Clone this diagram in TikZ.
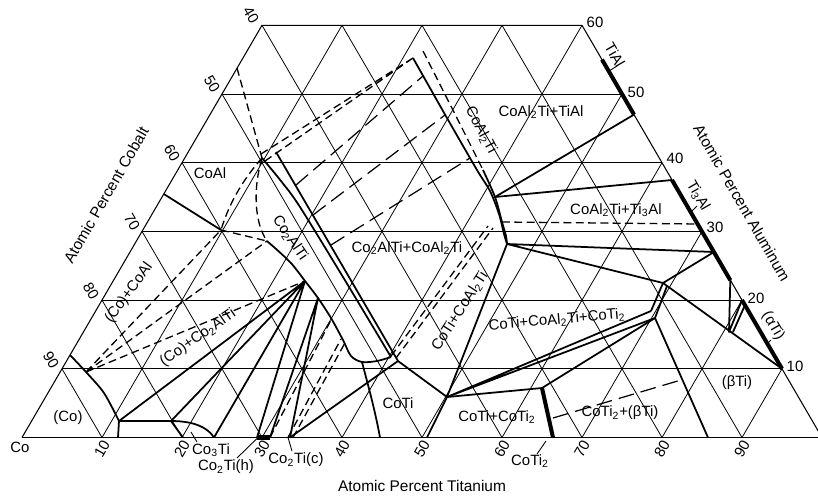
\documentclass[tikz,border=0pt]{standalone}
\usepackage{fontspec}
\setmainfont{Liberation Sans}
\newcommand{\low}[1]{\textsubscript{#1}}
\tikzset{
  grid/.style={line width=0.45pt},
  phase/.style={line width=1pt, line join=round},
  bold/.style={line width=2.3pt},
  tie/.style={line width=0.75pt, dash pattern=on 4.5pt off 2.5pt},
  longtie/.style={line width=0.7pt, dash pattern=on 9pt off 4pt},
  leader/.style={line width=0.5pt}
}
\begin{document}
\begin{tikzpicture}[x=0.02cm, y=-0.02cm, inner sep=0.3mm, font=\fontsize{8.5}{10}\selectfont]
\useasboundingbox (0,0) rectangle (818,495);

% grid: constant Al
\draw[grid] (62,368.8) -- (782,368.8) (102,300.1) -- (742,300.1) (142,231.4) -- (702,231.4) (182,162.7) -- (662,162.7) (222,94) -- (622,94);
% grid: constant Ti
\draw[grid] (102,437.5) -- (342,25.3) (182,437.5) -- (422,25.3) (262,437.5) -- (502,25.3) (342,437.5) -- (582,25.3) (422,437.5) -- (622,94) (502,437.5) -- (662,162.7) (582,437.5) -- (702,231.4) (662,437.5) -- (742,300.1) (742,437.5) -- (782,368.8);
% grid: constant Co
\draw[grid] (62,368.8) -- (102,437.5) (102,300.1) -- (182,437.5) (142,231.4) -- (262,437.5) (182,162.7) -- (342,437.5) (222,94) -- (422,437.5) (262,25.3) -- (502,437.5) (342,25.3) -- (582,437.5) (422,25.3) -- (662,437.5) (502,25.3) -- (742,437.5);
% frame
\draw[line width=0.6pt] (22,437.5) -- (262,25.3) -- (582,25.3) -- (822,437.5);
\draw[line width=0.9pt] (22,437.5) -- (818,437.5);

% corners of the fields
\coordinate (P0) at (86,372);
\coordinate (C1) at (119,421);
\coordinate (C3) at (171,421);
\coordinate (B) at (221,230);
\coordinate (Bp) at (267,241);
\coordinate (J) at (262,158);
\coordinate (K) at (305,281);
\coordinate (K2) at (318,298);
\coordinate (M) at (290,437.5);
\coordinate (N) at (398,361);
\coordinate (Q) at (447,397);
\coordinate (A1) at (413,58);
\coordinate (Ra) at (495,197);
\coordinate (Rb) at (502,222);
\coordinate (P) at (507,244);
\coordinate (U) at (663,283);
\coordinate (T1) at (651,311);
\coordinate (T2) at (655,318);
\coordinate (D2) at (542,388);

% (Co) corner
\draw[phase] plot[smooth] coordinates {(70,355) (86,372) (104,393) (119,421)};
\draw[phase] (C1) -- (118,437.5);
\draw[phase] (C1) -- (C3) -- (183,437.5);
\draw[phase] (C3) .. controls (195,421) and (208,428) .. (214,437.5);
\draw[phase] (C1) -- (K) (C3) -- (K) (214,437.5) -- (K) (257,437.5) -- (K);
\draw[phase] (270,437.5) -- (K2) -- (M);
\draw[bold] (257,437.5) -- (270,437.5);
\draw[phase] (M) -- (N);
\draw[tie] (270,437.5) -- (331,320);
\draw[tie] (288,437.5) -- (341,339) (293,437.5) -- (346,341);
\draw[tie] (P0) -- (B) (P0) -- (Bp) (P0) -- (K);

% CoAl
\draw[phase] (163.8,194) -- (B);
\draw[tie] (237,68) -- (J);
\draw[tie] (J) .. controls (246,176) and (230,200) .. (B);
\draw[tie] (J) .. controls (253,188) and (254,222) .. (Bp);
\draw[tie] (B) -- (Bp);
\draw[tie] (261,154) -- (A1) (265,161) -- (A1);

% Co2AlTi band
\draw[phase] plot[smooth] coordinates {(267,241) (290,262) (305,281) (318,298) (331,318) (343,340) (351,356) (362,362) (377,361) (391,357)};
\draw[phase] plot[smooth] coordinates {(262,158) (281,181) (300,207) (346,282) (391,357)};
\draw[phase] (276,152) -- (N);

% CoTi
\draw[phase] (362,362) .. controls (368,385) and (375,410) .. (380,437.5);
\draw[phase] (N) -- (Q) -- (427,437.5);
\draw[tie] (391,356) -- (488,226) (396,358) -- (493,228);

% CoAl2Ti band
\draw[phase] plot[smooth] coordinates {(413,58) (447,118) (477,170) (490,191) (499,214) (504,234) (507,244)};
\draw[tie] (423,51) -- (462,128) -- (483,170);
\draw[phase] plot[smooth] coordinates {(483,170) (495,197) (502,222) (506,236) (507,244)};
\draw[longtie] (296,185) -- (423,76) (313,215) -- (445,115) (331,245) -- (470,158);

% Ti rich side
\draw[phase] (Ra) -- (634,114.6);
\draw[phase] (Ra) -- (672,180);
\draw[tie] (Rb) -- (698,224);
\draw[phase] (P) -- (714,252) -- (U) -- (P);
\draw[phase] (P) -- (Q);
\draw[phase] (U) -- (782,368.8);
\draw[phase] (U) -- (T1) (667,286) -- (T2);
\draw[phase] (Q) -- (T1) (Q) -- (T2);
\draw[phase] (Q) -- (D2) -- (T2);
\draw[bold] (D2) -- (553,437.5);
\draw[longtie] (553,418) -- (681,380);
\draw[phase] (T2) -- (708,437.5);
\draw[phase] (730.3,280.2) -- (729,332) -- (742,300.1) (733,332) -- (745,305);
\draw[bold] (602,59.6) -- (634,114.6);
\draw[bold] (672,180) -- (730.3,280.2);
\draw[bold] (742,300.1) -- (782,368.8);

% fields
\node(fCo) at (68,418) {(Co)};
\node(fCoAl) at (210,173) {CoAl};
\node(fCoCoAl) at (129,293) [rotate=54] {(Co)+CoAl};
\node(fCoHeus) at (198,338) [rotate=35] {(Co)+Co\low{2}AlTi};
\node(fHeus) at (290,238) [rotate=-56] {Co\low{2}AlTi};
\node(fHeusTern) at (407,248) {Co\low{2}AlTi+CoAl\low{2}Ti};
\node(fTern) at (481,130) [rotate=-62] {CoAl\low{2}Ti};
\node(fTernTiAl) at (541,112) {CoAl\low{2}Ti+TiAl};
\node(fTernTi3Al) at (616,210) {CoAl\low{2}Ti+Ti\low{3}Al};
\node(fCoTiTern) at (460,311) [rotate=57] {CoTi+CoAl\low{2}Ti};
\node(fThree) at (557,320) [rotate=5] {CoTi+CoAl\low{2}Ti+CoTi\low{2}};
\node(fCoTi) at (398,403) {CoTi};
\node(fCoTiCoTi2) at (497,417) {CoTi+CoTi\low{2}};
\node(fCoTi2Beta) at (620,413) {CoTi\low{2}+(βTi)};
\node(fBeta) at (737,383) {(βTi)};
\node(fTiAl) at (615,55) [rotate=-60] {TiAl};
\node(fTi3Al) at (698,196) [rotate=-60] {Ti\low{3}Al};
\node(fAlpha) at (773,326) [rotate=-60] {(αTi)};
\node(fCo3Ti) at (211,450) {Co\low{3}Ti};
\node(fCo2Tih) at (226,467) {Co\low{2}Ti(h)};
\node(fCo2Tic) at (296,460) {Co\low{2}Ti(c)};
\node(fCoTi2) at (530,461) {CoTi\low{2}};
\draw[leader] (197,442) -- (191,432);
\draw[leader] (237,458) -- (258,437.5);
\draw[leader] (292,451) -- (288,437.5);
\draw[leader] (537,454) -- (546,441);
\draw[leader] (617,66) -- (609,71);
\draw[leader] (697,206) -- (691,212);
\draw[leader] (771,340) -- (767,344);

% axes
\node(co) at (20,447) {Co};
\node(b10) at (102,449) [rotate=60] {10};
\node(b20) at (182,449) [rotate=60] {20};
\node(b30) at (262,449) [rotate=60] {30};
\node(b40) at (342,449) [rotate=60] {40};
\node(b50) at (422,449) [rotate=60] {50};
\node(b60) at (502,449) [rotate=60] {60};
\node(b70) at (582,449) [rotate=60] {70};
\node(b80) at (662,449) [rotate=60] {80};
\node(b90) at (742,449) [rotate=60] {90};
\node(l90) at (51,360) [rotate=-60] {90};
\node(l80) at (91,291) [rotate=-60] {80};
\node(l70) at (132,222) [rotate=-60] {70};
\node(l60) at (172,153) [rotate=-60] {60};
\node(l50) at (212,84) [rotate=-60] {50};
\node(l40) at (251,15) [rotate=-60] {40};
\node(r60) at (595,22) {60};
\node(r50) at (636,92) {50};
\node(r40) at (675,158) {40};
\node(r30) at (715,227) {30};
\node(r20) at (756,298) {20};
\node(r10) at (795,366) {10};
\node(axCo) at (106,195) [rotate=60, font=\fontsize{8.8}{10}\selectfont] {Atomic Percent Cobalt};
\node(axAl) at (742,203) [rotate=-60, font=\fontsize{8.8}{10}\selectfont] {Atomic Percent Aluminum};
\node(axTi) at (422,486) [font=\fontsize{8.8}{10}\selectfont] {Atomic Percent Titanium};

\end{tikzpicture}
\end{document}
